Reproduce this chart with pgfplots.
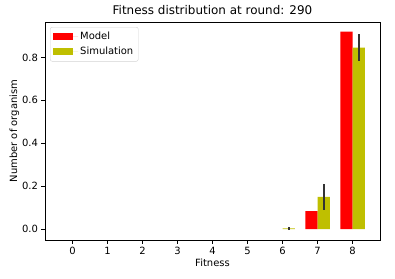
\documentclass[border=0pt]{standalone}
\usepackage{pgfplots}
\pgfplotsset{compat=1.18}
\usepackage{fontspec}
\setmainfont{DejaVu Sans}
\definecolor{simy}{rgb}{0.75,0.75,0}
\definecolor{errc}{rgb}{0.2,0.2,0.2}
\begin{document}
\begin{tikzpicture}
\path[use as bounding box] (-45bp,-39bp) rectangle (350bp,240bp);
\begin{axis}[
  at={(0,0)}, anchor=south west,
  scale only axis,
  width=335bp, height=218bp,
  xmin=-0.785, xmax=8.785,
  ymin=-0.051, ymax=0.965,
  xtick={0,1,2,3,4,5,6,7,8},
  ytick={0,0.2,0.4,0.6,0.8},
  yticklabel style={/pgf/number format/.cd,fixed,fixed zerofill,precision=1},
  /pgf/number format/assume math mode=true,
  tick align=outside,
  major tick length=3.5bp,
  tick style={line width=0.8bp, black},
  axis line style={line width=0.8bp},
  xtick pos=bottom, ytick pos=left,
  ticklabel style={font=\fontsize{10}{12}\selectfont},
  label style={font=\fontsize{10}{12}\selectfont},
  title style={font=\fontsize{12}{14}\selectfont, yshift=-2bp},
  title={Fitness distribution at round: 290},
  xlabel={Fitness},
  ylabel={Number of organism},
  xlabel style={yshift=2bp},
  ylabel style={yshift=-4bp},
  legend style={at={(0.015,0.977)}, anchor=north west, draw=gray!35, rounded corners=2bp,
    font=\fontsize{10}{12}\selectfont, row sep=2bp, inner sep=3bp},
  legend cell align=left,
  ybar, bar width=0.35,
]
\addplot[fill=red, draw=none, bar shift=-0.175,
  legend image code/.code={\fill[red, sharp corners] (0bp,-3.5bp) rectangle (20bp,3.5bp); \path (0bp,0bp) -- (25bp,0bp);}]
  coordinates {(7,0.084) (8,0.92)};
\addlegendentry{Model}
\addplot[fill=simy, draw=none, bar shift=0.175,
  legend image code/.code={\fill[simy, sharp corners] (0bp,-3.5bp) rectangle (20bp,3.5bp); \path (0bp,0bp) -- (25bp,0bp);},
  error bars/.cd, y dir=both, y explicit, error mark=none,
  error bar style={line width=2bp, draw=errc}]
  coordinates {(6,0.003) +- (0,0.008) (7,0.15) +- (0,0.06) (8,0.846) +- (0,0.063)};
\addlegendentry{Simulation}
\end{axis}
\end{tikzpicture}
\end{document}
